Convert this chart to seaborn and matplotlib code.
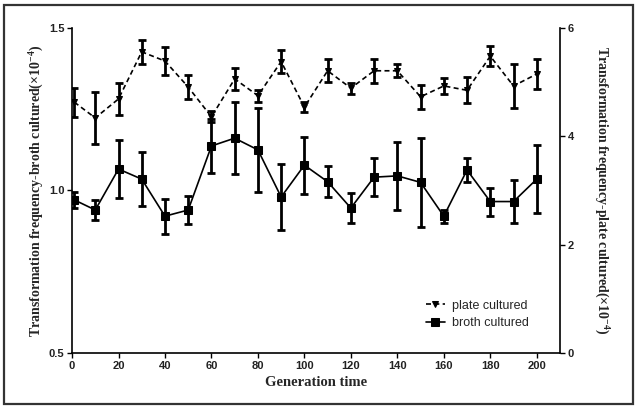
"""
Transformation frequency over generations: broth vs plate cultured
"""

import numpy as np
import pandas as pd
import seaborn as sns
import matplotlib.pyplot as plt
from matplotlib.patches import Rectangle

# Data
generation = [1, 10, 20, 30, 40, 50, 60, 70, 80, 90, 100,
              110, 120, 130, 140, 150, 160, 170, 180, 190, 200]
broth = [0.971, 0.940, 1.066, 1.035, 0.921, 0.940, 1.137, 1.161, 1.125, 0.980, 1.078,
         1.027, 0.946, 1.041, 1.045, 1.025, 0.921, 1.063, 0.966, 0.966, 1.035]
broth_err = [0.025, 0.030, 0.090, 0.083, 0.054, 0.042, 0.082, 0.110, 0.130, 0.100, 0.088,
             0.048, 0.046, 0.058, 0.105, 0.138, 0.020, 0.036, 0.043, 0.066, 0.105]
plate = [4.63, 4.34, 4.69, 5.56, 5.39, 4.91, 4.36, 5.06, 4.75, 5.38, 4.54,
         5.21, 4.89, 5.21, 5.21, 4.73, 4.93, 4.85, 5.48, 4.93, 5.15]
plate_err = [0.27, 0.48, 0.30, 0.22, 0.25, 0.23, 0.10, 0.20, 0.11, 0.22, 0.09,
             0.21, 0.10, 0.22, 0.12, 0.22, 0.15, 0.24, 0.18, 0.40, 0.27]

df = pd.DataFrame({'generation': generation, 'broth': broth, 'plate': plate})

sns.set_style('ticks')
plt.rcParams['font.family'] = ['Liberation Sans', 'DejaVu Sans']
plt.rcParams['mathtext.fontset'] = 'custom'
plt.rcParams['mathtext.rm'] = 'Liberation Serif:bold'
plt.rcParams['mathtext.bf'] = 'Liberation Serif:bold'
plt.rcParams['mathtext.default'] = 'rm'

fig = plt.figure(figsize=(6.38, 4.11), dpi=100)
ax = fig.add_axes([0.1129, 0.1411, 0.7648, 0.7908])
ax2 = ax.twinx()

# broth cultured on the left axis
sns.lineplot(data=df, x='generation', y='broth', ax=ax, color='black', marker='s',
             markersize=6, markeredgecolor='black', linewidth=1.2, label='broth cultured',
             legend=False)
ax.errorbar(generation, broth, yerr=broth_err, fmt='none', ecolor='black',
            elinewidth=2, capsize=3, capthick=2)

# plate cultured on the right axis
sns.lineplot(data=df, x='generation', y='plate', ax=ax2, color='black', marker='v',
             markersize=5, markeredgecolor='black', linewidth=1.2, linestyle=(0, (3, 2)),
             label='plate cultured', legend=False)
ax2.errorbar(generation, plate, yerr=plate_err, fmt='none', ecolor='black',
             elinewidth=2, capsize=3, capthick=2)

ax.set_xlim(0, 210)
ax.set_ylim(0.5, 1.5)
ax2.set_ylim(0, 6)
ax.set_xticks(np.arange(0, 201, 20))
ax.set_yticks([0.5, 1.0, 1.5])
ax2.set_yticks([0, 2, 4, 6])

for a in (ax, ax2):
    a.tick_params(direction='out', length=3.5, width=1, labelsize=8, color='black', pad=2)
    for lab in a.get_xticklabels() + a.get_yticklabels():
        lab.set_fontweight('bold')
        lab.set_color('#222222')

ax.spines['top'].set_visible(False)
ax.spines['right'].set_visible(False)
ax2.spines['top'].set_visible(False)
ax2.spines['left'].set_visible(False)
ax2.spines['bottom'].set_visible(False)
for s in ['left', 'bottom']:
    ax.spines[s].set_linewidth(1.2)
    ax.spines[s].set_color('black')
ax2.spines['right'].set_linewidth(1.2)
ax2.spines['right'].set_color('black')

serif = dict(family='Liberation Serif', weight='bold', size=10.5)
ax.set_xlabel('Generation time', fontdict=serif, labelpad=4)
ax.set_ylabel(r'Transformation frequency-broth cultured(×10$^{-4}$)', fontdict=dict(serif, size=10),
              labelpad=2)
ax2.set_ylabel(r'Transformation frequency-plate cultured(×10$^{-4}$)', fontdict=dict(serif, size=10),
               rotation=-90, labelpad=26)

h1, l1 = ax.get_legend_handles_labels()
h2, l2 = ax2.get_legend_handles_labels()
ax2.legend(h2 + h1, l2 + l1, loc='lower right', bbox_to_anchor=(0.96, 0.038), frameon=False,
           fontsize=9, handlelength=1.5, handletextpad=0.6, labelspacing=0.45)

# dark frame around the whole picture
fig.patches.append(Rectangle((0.0063, 0.017), 0.9857, 0.971, transform=fig.transFigure,
                             fill=False, edgecolor='#333333', linewidth=1.6))

fig.savefig('out.png', dpi=100)
